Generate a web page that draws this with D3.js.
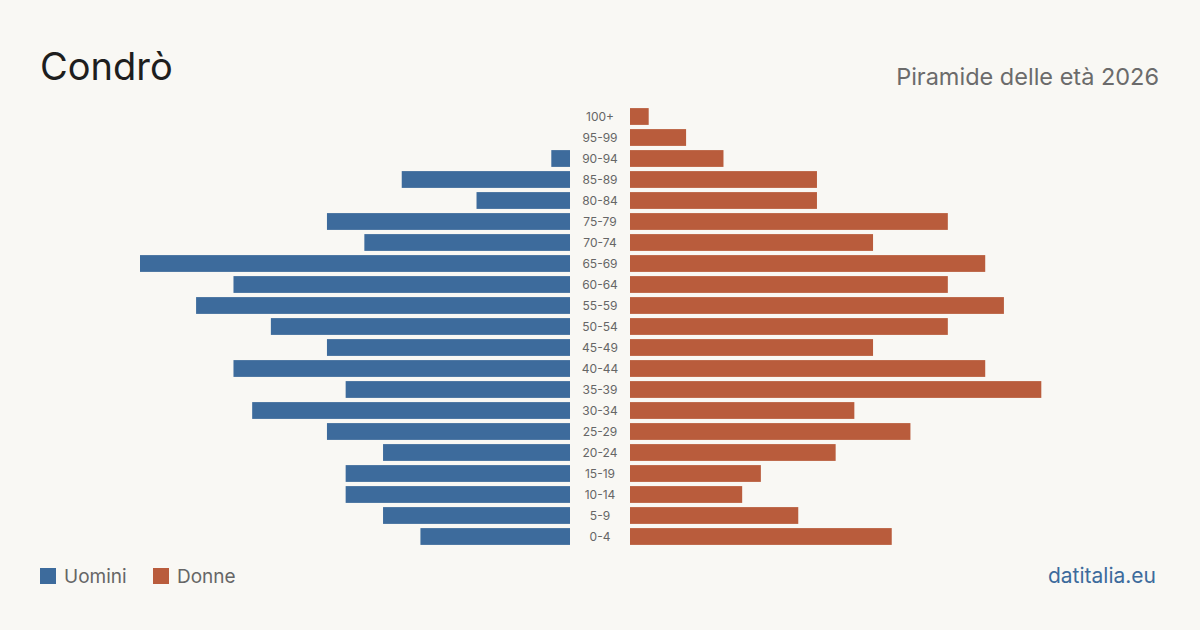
<!DOCTYPE html>
<html>
<head>
<meta charset="utf-8">
<script src="https://cdn.jsdelivr.net/npm/d3@7"></script>
<style>
  html, body { margin: 0; padding: 0; background: #f9f8f4; }
  svg { display: block; font-family: Inter, "Noto Sans", sans-serif; }
</style>
</head>
<body>
<script>
// age classes, top to bottom
const ages = ['100+','95-99','90-94','85-89','80-84','75-79','70-74','65-69','60-64','55-59',
  '50-54','45-49','40-44','35-39','30-34','25-29','20-24','15-19','10-14','5-9','0-4'];
const men   = [0, 0, 1, 9, 5, 13, 11, 23, 18, 20, 16, 13, 18, 12, 17, 13, 10, 12, 12, 10, 8];
const women = [1, 3, 5, 10, 10, 17, 13, 19, 17, 20, 17, 13, 19, 22, 12, 15, 11, 7, 6, 9, 14];

const width = 1200, height = 630,
    blue = '#3d6b9c', red = '#b95c3c';

const svg = d3.select('body').append('svg')
    .attr('width', width)
    .attr('height', height);

svg.append('rect').attr('width', width).attr('height', height).attr('fill', '#f9f8f4');

// titles
svg.append('text')
    .attr('x', 40).attr('y', 80)
    .attr('font-size', 38).attr('fill', '#1e1e1e')
    .text('Condrò');

svg.append('text')
    .attr('x', 1159).attr('y', 85)
    .attr('text-anchor', 'end')
    .attr('font-size', 23.5).attr('fill', '#6b6b6b')
    .text('Piramide delle età 2026');

// scales
const maxV = d3.max(men.concat(women));
const xL = d3.scaleLinear().domain([0, maxV]).range([570, 140]);
const xR = d3.scaleLinear().domain([0, maxV]).range([630, 1060]);
const y = d3.scaleBand().domain(ages).range([106, 547]).paddingInner(0.2).paddingOuter(0.1);

svg.append('g').selectAll('rect')
    .data(ages)
    .enter().append('rect')
    .attr('x', (d, i) => xL(men[i]))
    .attr('y', d => y(d))
    .attr('width', (d, i) => xL(0) - xL(men[i]))
    .attr('height', y.bandwidth())
    .attr('fill', blue);

svg.append('g').selectAll('rect')
    .data(ages)
    .enter().append('rect')
    .attr('x', xR(0))
    .attr('y', d => y(d))
    .attr('width', (d, i) => xR(women[i]) - xR(0))
    .attr('height', y.bandwidth())
    .attr('fill', red);

svg.append('g').selectAll('text')
    .data(ages)
    .enter().append('text')
    .attr('x', 600)
    .attr('y', d => y(d) + y.bandwidth() / 2)
    .attr('dy', '0.35em')
    .attr('text-anchor', 'middle')
    .attr('font-size', 12).attr('fill', '#666')
    .text(d => d);

// legend
const legend = [{ label: 'Uomini', color: blue, x: 40 }, { label: 'Donne', color: red, x: 153 }];
const lg = svg.append('g').selectAll('g').data(legend).enter().append('g');
lg.append('rect')
    .attr('x', d => d.x).attr('y', 568)
    .attr('width', 16).attr('height', 16)
    .attr('fill', d => d.color);
lg.append('text')
    .attr('x', d => d.x + 24).attr('y', 583)
    .attr('font-size', 19).attr('fill', '#666')
    .text(d => d.label);

svg.append('text')
    .attr('x', 1156).attr('y', 583)
    .attr('text-anchor', 'end')
    .attr('font-size', 21).attr('fill', blue)
    .text('datitalia.eu');
</script>
</body>
</html>
